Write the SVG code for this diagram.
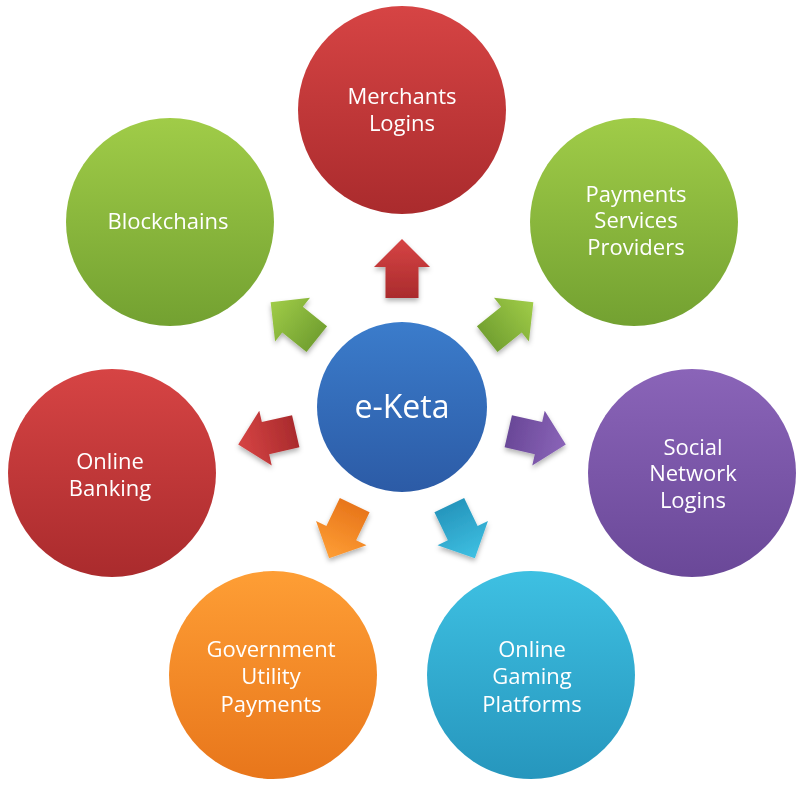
<svg xmlns="http://www.w3.org/2000/svg" xmlns:xlink="http://www.w3.org/1999/xlink" width="800" height="793" viewBox="0 0 800 793">
<defs>
<linearGradient id="gRed" x1="0" y1="0" x2="0" y2="1"><stop offset="0" stop-color="#d64444"/><stop offset="1" stop-color="#aa2b2d"/></linearGradient>
<linearGradient id="gGreen" x1="0" y1="0" x2="0" y2="1"><stop offset="0" stop-color="#a0cc48"/><stop offset="1" stop-color="#73a131"/></linearGradient>
<linearGradient id="gPurple" x1="0" y1="0" x2="0" y2="1"><stop offset="0" stop-color="#8a64b8"/><stop offset="1" stop-color="#6a4898"/></linearGradient>
<linearGradient id="gCyan" x1="0" y1="0" x2="0" y2="1"><stop offset="0" stop-color="#3ec0e2"/><stop offset="1" stop-color="#2696bd"/></linearGradient>
<linearGradient id="gOrange" x1="0" y1="0" x2="0" y2="1"><stop offset="0" stop-color="#fe9e35"/><stop offset="1" stop-color="#e8761b"/></linearGradient>
<linearGradient id="gBlue" x1="0" y1="0" x2="0" y2="1"><stop offset="0" stop-color="#3b7ccb"/><stop offset="1" stop-color="#2c5ba6"/></linearGradient>
<filter id="sh" x="-20%" y="-20%" width="140%" height="140%"><feDropShadow dx="0" dy="3" stdDeviation="2.5" flood-color="#000" flood-opacity="0.3"/></filter>
<path id="arrow" d="M0,-168 L28,-140 L16.5,-140 L16.5,-109 L-16.5,-109 L-16.5,-140 L-28,-140 Z"/>
</defs>
<style>
.lbl{font-family:"Open Sans","Noto Sans","DejaVu Sans",sans-serif;font-size:22px;fill:#fff;text-anchor:middle}
.ctr{font-size:32px}
</style>
<rect width="800" height="793" fill="#fff"/>
<g id="connectors" filter="url(#sh)">
<use xlink:href="#arrow" fill="url(#gRed)" transform="translate(402,407) rotate(0)"/>
<use xlink:href="#arrow" fill="url(#gGreen)" transform="translate(402,407) rotate(51.43)"/>
<use xlink:href="#arrow" fill="url(#gPurple)" transform="translate(402,407) rotate(102.86)"/>
<use xlink:href="#arrow" fill="url(#gCyan)" transform="translate(402,407) rotate(154.29)"/>
<use xlink:href="#arrow" fill="url(#gOrange)" transform="translate(402,407) rotate(-154.29)"/>
<use xlink:href="#arrow" fill="url(#gRed)" transform="translate(402,407) rotate(-102.86)"/>
<use xlink:href="#arrow" fill="url(#gGreen)" transform="translate(402,407) rotate(-51.43)"/>
</g>
<g id="center">
<circle cx="402" cy="407" r="85" fill="url(#gBlue)"/>
<text class="lbl ctr" x="402" y="418">e-Keta</text>
</g>
<g id="merchants">
<circle cx="402" cy="110" r="104" fill="url(#gRed)"/>
<text class="lbl" x="402" y="104">Merchants</text>
<text class="lbl" x="402" y="131">Logins</text>
</g>
<g id="payments">
<circle cx="634" cy="222" r="104" fill="url(#gGreen)"/>
<text class="lbl" x="636" y="202">Payments</text>
<text class="lbl" x="636" y="228">Services</text>
<text class="lbl" x="636" y="255">Providers</text>
</g>
<g id="social">
<circle cx="692" cy="473" r="104" fill="url(#gPurple)"/>
<text class="lbl" x="693" y="455">Social</text>
<text class="lbl" x="693" y="481">Network</text>
<text class="lbl" x="693" y="508">Logins</text>
</g>
<g id="gaming">
<circle cx="531" cy="675" r="104" fill="url(#gCyan)"/>
<text class="lbl" x="532" y="657">Online</text>
<text class="lbl" x="532" y="684">Gaming</text>
<text class="lbl" x="532" y="712">Platforms</text>
</g>
<g id="government">
<circle cx="273" cy="675" r="104" fill="url(#gOrange)"/>
<text class="lbl" x="271" y="657">Government</text>
<text class="lbl" x="271" y="684">Utility</text>
<text class="lbl" x="271" y="712">Payments</text>
</g>
<g id="banking">
<circle cx="112" cy="473" r="104" fill="url(#gRed)"/>
<text class="lbl" x="110" y="469">Online</text>
<text class="lbl" x="110" y="496">Banking</text>
</g>
<g id="blockchains">
<circle cx="170" cy="222" r="104" fill="url(#gGreen)"/>
<text class="lbl" x="168" y="229">Blockchains</text>
</g>
</svg>
